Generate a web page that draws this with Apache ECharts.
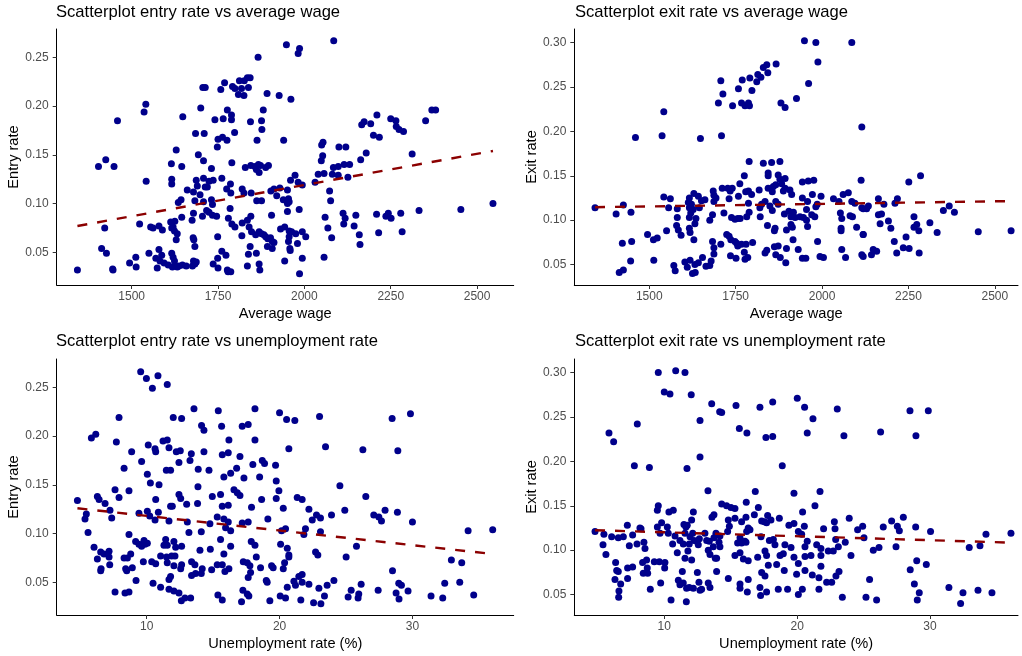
<!DOCTYPE html>
<html>
<head>
<meta charset="utf-8">
<script src="https://cdn.jsdelivr.net/npm/echarts@6/dist/echarts.min.js"></script>
<style>
  html, body { margin: 0; padding: 0; background: #fff; }
  #chart { width: 1022px; height: 656px; }
</style>
</head>
<body>
<div id="chart"></div>
<script>
// Municipal observations: [average wage, entry rate]
const wageEntry = [
  [1706,0.219],[1713,0.219],[1541,0.202],[1536,0.194],[1700,0.198],[1459,0.185],[1648,0.189],[1685,0.172],
  [1710,0.172],[1629,0.155],[1693,0.150],[1708,0.144],[1404,0.138],[1425,0.145],[1449,0.138],[1615,0.141],
  [1645,0.138],[1542,0.123],[1616,0.125],[1616,0.120],[1687,0.124],[1708,0.126],[1690,0.118],[1713,0.117],
  [1679,0.112],[1661,0.114],[1698,0.109],[1643,0.104],[1635,0.101],[1683,0.103],[1708,0.102],[1679,0.090],
  [1705,0.087],[1645,0.086],[1422,0.075],[1523,0.079],[1555,0.076],[1562,0.075],[1579,0.077],[1589,0.073],
  [1613,0.081],[1625,0.082],[1620,0.076],[1616,0.075],[1624,0.072],[1632,0.069],[1629,0.063],[1675,0.083],
  [1678,0.065],[1680,0.063],[1683,0.056],[1413,0.054],[1427,0.049],[1512,0.045],[1494,0.039],[1513,0.035],
  [1550,0.049],[1579,0.053],[1570,0.044],[1587,0.047],[1582,0.041],[1574,0.034],[1594,0.039],[1606,0.037],
  [1616,0.049],[1620,0.045],[1624,0.041],[1627,0.036],[1637,0.036],[1647,0.037],[1658,0.036],[1679,0.041],
  [1683,0.038],[1676,0.036],[1687,0.040],[1618,0.035],[1632,0.035],[1343,0.032],[1445,0.033],[1446,0.032],
  [1948,0.263],[2085,0.267],[1986,0.259],[1982,0.254],[1866,0.250],[1769,0.224],[1758,0.217],[1792,0.220],
  [1799,0.218],[1812,0.226],[1826,0.226],[1835,0.229],[1843,0.229],[1818,0.218],[1838,0.219],[1809,0.212],
  [1825,0.211],[1892,0.213],[1927,0.211],[1961,0.207],[1777,0.196],[1741,0.186],[1765,0.187],[1789,0.191],
  [1789,0.186],[1844,0.184],[1881,0.196],[1876,0.185],[1877,0.176],[1798,0.173],[1750,0.166],[1763,0.168],
  [1776,0.165],[1748,0.158],[1863,0.165],[1940,0.165],[2054,0.163],[2050,0.160],[2053,0.149],[2049,0.144],
  [2100,0.158],[2120,0.158],[1790,0.142],[1731,0.136],[1829,0.137],[1845,0.139],[1857,0.138],[1867,0.140],
  [1873,0.139],[1861,0.135],[1869,0.132],[1888,0.137],[1896,0.139],[2040,0.130],[2057,0.131],[2084,0.137],
  [2098,0.138],[2115,0.140],[2131,0.140],[2081,0.130],[2098,0.129],[2126,0.127],[1973,0.129],[1960,0.124],
  [1982,0.122],[1994,0.119],[2031,0.122],[1724,0.123],[1736,0.124],[1761,0.126],[1786,0.120],[1719,0.117],
  [1775,0.115],[1787,0.111],[1820,0.115],[1825,0.111],[1846,0.111],[1903,0.113],[1912,0.115],[1929,0.116],
  [1951,0.114],[1920,0.108],[2073,0.113],[2076,0.103],[1731,0.104],[1734,0.099],[1862,0.103],[1876,0.103],
  [1939,0.104],[1954,0.105],[1951,0.100],[1956,0.102],[1785,0.095],[1985,0.094],[1951,0.092],[1717,0.093],
  [1724,0.091],[1734,0.088],[1746,0.087],[1905,0.088],[2060,0.086],[2112,0.090],[2118,0.085],[2114,0.079],
  [1780,0.085],[1790,0.079],[1799,0.076],[1820,0.080],[1835,0.083],[1845,0.087],[1840,0.076],[1847,0.071],
  [1859,0.068],[1869,0.071],[1876,0.069],[1883,0.068],[1888,0.066],[1894,0.064],[1902,0.065],[1907,0.061],
  [1912,0.060],[1907,0.054],[1893,0.056],[1931,0.074],[1943,0.076],[1956,0.072],[1963,0.071],[1975,0.069],
  [1956,0.066],[1994,0.071],[2004,0.066],[2068,0.075],[2079,0.065],[2144,0.077],[1954,0.061],[1958,0.054],
  [1980,0.059],[1959,0.052],[1749,0.066],[1819,0.067],[1843,0.056],[1838,0.048],[1861,0.049],[1761,0.051],
  [1773,0.047],[1749,0.044],[1736,0.038],[1750,0.034],[1777,0.032],[1779,0.030],[1787,0.030],[1835,0.036],
  [1869,0.038],[1871,0.032],[1943,0.041],[1994,0.044],[2057,0.045],[1986,0.028],
  [2369,0.196],[2380,0.196],[2351,0.185],[2166,0.181],[2173,0.184],[2192,0.182],[2210,0.191],[2250,0.187],
  [2265,0.185],[2266,0.179],[2274,0.176],[2287,0.174],[2200,0.170],[2217,0.168],[2179,0.152],[2163,0.145],
  [2312,0.151],[2149,0.088],[2209,0.089],[2236,0.087],[2243,0.090],[2251,0.085],[2279,0.090],[2332,0.093],
  [2453,0.094],[2546,0.100],[2159,0.068],[2215,0.070],[2283,0.071],[2161,0.058]
];

// [average wage, exit rate]
const wageExit = [
  [1542,0.222],[1460,0.193],[1537,0.195],[1648,0.192],[1343,0.114],[1404,0.107],[1425,0.117],[1447,0.109],
  [1542,0.126],[1561,0.124],[1556,0.114],[1581,0.113],[1616,0.125],[1629,0.130],[1642,0.127],[1651,0.122],
  [1661,0.123],[1685,0.133],[1687,0.128],[1693,0.125],[1613,0.120],[1616,0.114],[1622,0.118],[1627,0.112],
  [1620,0.108],[1616,0.103],[1635,0.102],[1632,0.096],[1645,0.114],[1675,0.100],[1683,0.106],[1687,0.121],
  [1581,0.103],[1579,0.094],[1584,0.089],[1592,0.083],[1550,0.088],[1616,0.091],[1618,0.086],[1629,0.078],
  [1495,0.084],[1512,0.078],[1523,0.080],[1422,0.074],[1449,0.076],[1683,0.076],[1687,0.069],[1687,0.062],
  [1446,0.054],[1413,0.041],[1425,0.044],[1513,0.055],[1571,0.049],[1575,0.043],[1603,0.053],[1618,0.055],
  [1610,0.047],[1625,0.040],[1633,0.041],[1632,0.050],[1642,0.052],[1654,0.058],[1664,0.048],[1675,0.049],
  [1679,0.054],
  [1949,0.302],[1982,0.300],[2086,0.300],[1988,0.278],[1867,0.276],[1840,0.275],[1830,0.272],[1814,0.264],
  [1823,0.261],[1843,0.266],[1811,0.256],[1791,0.260],[1769,0.258],[1707,0.257],[1961,0.254],[1758,0.248],
  [1797,0.246],[1713,0.242],[1926,0.237],[1700,0.232],[1741,0.229],[1767,0.232],[1777,0.229],[1787,0.232],
  [1790,0.229],[1881,0.232],[1893,0.227],[2115,0.205],[1709,0.195],[1789,0.166],[1830,0.164],[1854,0.165],
  [1878,0.166],[1775,0.150],[1844,0.153],[1844,0.150],[1873,0.151],[1878,0.146],[1866,0.140],[1883,0.141],
  [1893,0.147],[1893,0.136],[1888,0.133],[1762,0.141],[1711,0.136],[1727,0.136],[1740,0.136],[1734,0.133],
  [1787,0.133],[1779,0.132],[1796,0.129],[1818,0.134],[1758,0.127],[1731,0.124],[1844,0.136],[1859,0.138],
  [1856,0.132],[1907,0.134],[1912,0.129],[1943,0.143],[1960,0.144],[1976,0.145],[1972,0.129],[1997,0.127],
  [2113,0.145],[2061,0.129],[2076,0.131],[2033,0.124],[2049,0.121],[2086,0.121],[2095,0.119],[2115,0.114],
  [1943,0.125],[1958,0.121],[1986,0.118],[1982,0.115],[1789,0.109],[1787,0.119],[1820,0.114],[1825,0.118],
  [1835,0.121],[1849,0.116],[1856,0.111],[1866,0.121],[1873,0.118],[1891,0.107],[1904,0.110],[1917,0.109],
  [1910,0.104],[1922,0.103],[1936,0.104],[1946,0.103],[1955,0.100],[1970,0.106],[1955,0.112],[1979,0.104],
  [1958,0.093],[1910,0.095],[1897,0.089],[1914,0.092],[1716,0.108],[1738,0.103],[1748,0.101],[1756,0.102],
  [1763,0.102],[1782,0.104],[1821,0.104],[1842,0.094],[1864,0.091],[1862,0.088],[2053,0.108],[2057,0.102],
  [2081,0.105],[2088,0.104],[2055,0.091],[2055,0.088],[2100,0.092],[2119,0.084],[1724,0.084],[1731,0.082],
  [1736,0.078],[1748,0.076],[1756,0.071],[1767,0.073],[1780,0.073],[1799,0.075],[1707,0.073],[1753,0.074],
  [1916,0.078],[1987,0.076],[1835,0.063],[1840,0.066],[1862,0.070],[1873,0.071],[1866,0.061],[1897,0.068],
  [1931,0.067],[1775,0.064],[1735,0.060],[1751,0.057],[1777,0.056],[1785,0.058],[1879,0.058],[1895,0.052],
  [1943,0.057],[1953,0.057],[1994,0.059],[2004,0.058],[2057,0.067],[2068,0.058],[2115,0.061],
  [2251,0.143],[2285,0.150],[2163,0.124],[2218,0.124],[2211,0.119],[2179,0.118],[2119,0.113],[2129,0.113],
  [2134,0.116],[2351,0.111],[2368,0.116],[2383,0.109],[2163,0.106],[2172,0.107],[2266,0.104],[2192,0.099],
  [2168,0.096],[2199,0.091],[2266,0.092],[2274,0.095],[2280,0.088],[2312,0.097],[2333,0.086],[2452,0.087],
  [2547,0.088],[2119,0.084],[2209,0.076],[2243,0.081],[2148,0.067],[2158,0.065],[2143,0.061],[2119,0.059],
  [2235,0.069],[2252,0.068],[2216,0.063],[2281,0.063]
];

// [unemployment rate (%), entry rate]
const unempEntry = [
  [9.55,0.266],[9.98,0.259],[10.85,0.262],[10.43,0.249],[11.55,0.253],[13.56,0.228],[7.92,0.219],[12.00,0.219],
  [12.63,0.218],[14.13,0.211],[14.31,0.206],[5.84,0.198],[6.17,0.202],[7.72,0.194],[11.23,0.195],[11.55,0.196],
  [10.12,0.191],[10.63,0.187],[10.68,0.184],[11.68,0.188],[12.23,0.184],[12.53,0.185],[13.36,0.182],[13.26,0.175],
  [14.31,0.184],[8.87,0.184],[9.62,0.174],[12.43,0.173],[8.30,0.167],[11.48,0.165],[11.80,0.165],[13.88,0.166],
  [10.05,0.161],[10.28,0.152],[10.93,0.150],[13.86,0.148],[7.62,0.145],[8.67,0.144],[7.92,0.137],[6.29,0.138],
  [6.42,0.135],[6.87,0.131],[4.79,0.134],[10.68,0.135],[12.43,0.140],[12.56,0.136],[11.80,0.128],[11.93,0.128],
  [13.01,0.130],[13.83,0.131],[7.24,0.124],[7.37,0.116],[5.46,0.120],[5.36,0.115],[9.42,0.121],[10.05,0.123],
  [10.23,0.118],[10.63,0.114],[10.88,0.122],[11.68,0.113],[13.06,0.112],[13.18,0.101],[14.11,0.102],[5.59,0.101],
  [8.67,0.099],[9.17,0.092],[9.42,0.089],[9.62,0.087],[9.87,0.089],[10.05,0.090],[9.80,0.093],[11.43,0.094],
  [11.30,0.088],[11.55,0.088],[12.05,0.092],[12.18,0.086],[12.63,0.087],[6.04,0.086],[6.54,0.081],[6.79,0.079],
  [7.17,0.082],[7.17,0.076],[6.29,0.074],[8.30,0.075],[8.55,0.075],[8.80,0.079],[6.57,0.064],[6.54,0.062],
  [7.22,0.068],[8.42,0.064],[8.50,0.062],[8.92,0.065],[9.75,0.071],[10.38,0.071],[10.68,0.069],[11.05,0.077],
  [11.50,0.076],[11.88,0.077],[12.13,0.077],[11.55,0.070],[12.05,0.067],[12.63,0.068],[12.56,0.064],[13.38,0.071],
  [13.63,0.068],[14.18,0.064],[14.01,0.083],[13.38,0.057],[13.68,0.059],[14.11,0.059],[9.20,0.052],[10.48,0.049],
  [11.05,0.045],[11.68,0.053],[11.80,0.056],[11.68,0.043],[12.05,0.041],[12.43,0.039],[12.61,0.031],[12.88,0.034],
  [13.31,0.034],[7.62,0.040],[8.37,0.039],[8.67,0.040],
  [15.39,0.226],[18.15,0.228],[20.00,0.224],[20.53,0.217],[21.15,0.216],[23.01,0.220],[15.64,0.210],[17.19,0.210],
  [17.64,0.212],[16.19,0.196],[18.15,0.196],[20.70,0.187],[23.46,0.189],[15.69,0.181],[16.14,0.183],[17.02,0.179],
  [17.99,0.171],[18.70,0.175],[18.87,0.172],[19.70,0.170],[14.69,0.165],[16.77,0.167],[16.32,0.162],[15.81,0.158],
  [17.32,0.157],[18.50,0.158],[19.75,0.154],[19.95,0.144],[19.75,0.136],[16.57,0.145],[16.82,0.142],[17.02,0.139],
  [14.94,0.138],[15.56,0.140],[15.69,0.128],[16.14,0.129],[18.65,0.135],[17.89,0.127],[20.28,0.126],[21.33,0.137],
  [21.70,0.135],[22.21,0.125],[22.78,0.119],[23.08,0.116],[22.46,0.114],[23.91,0.119],[24.54,0.149],[24.91,0.124],
  [15.31,0.117],[15.81,0.115],[16.14,0.112],[15.94,0.106],[16.32,0.103],[14.76,0.110],[17.19,0.111],[17.64,0.112],
  [19.12,0.115],[20.15,0.103],[20.45,0.105],[21.95,0.105],[21.83,0.099],[23.08,0.102],[15.56,0.094],[17.87,0.092],
  [18.15,0.088],[16.32,0.087],[14.79,0.084],[15.81,0.079],[18.25,0.076],[20.08,0.089],[20.58,0.085],[20.70,0.078],
  [20.70,0.076],[22.71,0.081],[22.88,0.078],[25.01,0.076],[15.31,0.068],[15.69,0.068],[14.89,0.063],[15.89,0.061],
  [16.19,0.064],[17.27,0.071],[17.57,0.070],[17.77,0.067],[17.82,0.060],[17.64,0.055],[18.57,0.065],[19.40,0.067],
  [19.52,0.065],[20.38,0.070],[20.28,0.064],[19.00,0.052],[19.07,0.050],[21.08,0.051],[21.20,0.047],[21.45,0.056],
  [21.70,0.058],[21.70,0.050],[22.21,0.048],[20.58,0.045],[22.96,0.044],[23.58,0.047],[24.09,0.052],[15.36,0.037],
  [15.69,0.032],[17.24,0.042],[17.57,0.038],[17.69,0.036],[17.14,0.030],[19.27,0.031],[20.05,0.036],[20.45,0.034],
  [21.60,0.032],[22.56,0.029],[23.11,0.028],[23.38,0.036],[25.39,0.042],[25.16,0.035],
  [28.47,0.218],[29.85,0.223],[26.27,0.186],[28.90,0.185],[26.49,0.138],[27.09,0.119],[27.47,0.117],[27.67,0.113],
  [27.94,0.124],[28.87,0.122],[30.00,0.112],[34.19,0.103],[36.04,0.104],[25.79,0.087],[32.93,0.073],[33.71,0.070],
  [28.50,0.062],[26.14,0.048],[25.96,0.038],[25.91,0.034],[27.42,0.042],[28.97,0.049],[29.17,0.047],[28.77,0.039],
  [28.99,0.033],[29.67,0.041],[31.40,0.036],[32.28,0.034],[32.43,0.049],[33.56,0.050],[34.61,0.037]
];

// [unemployment rate (%), exit rate]
const unempExit = [
  [9.55,0.300],[10.86,0.302],[11.56,0.300],[10.00,0.278],[10.43,0.276],[12.03,0.275],[13.57,0.265],[7.97,0.242],
  [12.69,0.246],[5.84,0.232],[6.19,0.222],[12.69,0.205],[7.75,0.195],[8.88,0.193],[11.71,0.192],[13.29,0.167],
  [9.55,0.150],[9.48,0.145],[10.35,0.143],[10.68,0.145],[12.19,0.143],[13.74,0.140],[13.59,0.137],[4.79,0.121],
  [5.46,0.118],[7.22,0.128],[7.62,0.117],[8.17,0.125],[8.25,0.124],[6.04,0.115],[6.54,0.114],[6.92,0.115],
  [7.37,0.105],[7.95,0.107],[8.47,0.109],[8.55,0.102],[9.48,0.126],[9.80,0.131],[10.23,0.126],[9.68,0.119],
  [10.30,0.119],[10.81,0.116],[10.63,0.107],[11.18,0.111],[11.48,0.129],[11.63,0.126],[12.06,0.134],[11.73,0.128],
  [11.56,0.119],[11.94,0.115],[12.14,0.119],[12.24,0.111],[12.44,0.110],[12.64,0.113],[13.06,0.119],[13.19,0.111],
  [13.39,0.110],[13.74,0.114],[11.43,0.107],[11.88,0.107],[12.56,0.106],[5.39,0.106],[5.61,0.095],[10.98,0.097],
  [11.78,0.099],[13.31,0.100],[13.44,0.095],[13.69,0.104],[13.84,0.091],[6.34,0.086],[6.42,0.077],[6.54,0.076],
  [7.24,0.080],[7.62,0.081],[8.37,0.086],[8.67,0.089],[8.72,0.080],[8.42,0.074],[8.75,0.074],[9.25,0.087],
  [9.63,0.087],[10.05,0.086],[10.03,0.080],[11.56,0.091],[12.06,0.089],[11.36,0.076],[12.49,0.075],[6.29,0.067],
  [6.72,0.062],[7.24,0.068],[6.59,0.054],[6.57,0.047],[8.95,0.056],[9.73,0.063],[10.51,0.044],[11.66,0.042],
  [11.06,0.066],[11.18,0.061],[11.43,0.063],[11.68,0.057],[11.88,0.058],[12.19,0.057],[12.61,0.064],[12.69,0.055],
  [12.81,0.056],[13.31,0.063],[13.44,0.058],
  [20.01,0.271],[18.16,0.267],[15.40,0.263],[17.20,0.261],[20.56,0.261],[23.02,0.259],[14.17,0.256],[14.32,0.255],
  [21.19,0.248],[15.65,0.237],[16.22,0.232],[17.65,0.227],[18.16,0.228],[20.76,0.232],[23.52,0.229],[18.88,0.195],
  [16.85,0.166],[19.76,0.164],[21.72,0.166],[14.32,0.152],[14.69,0.150],[15.02,0.148],[15.32,0.147],[16.17,0.154],
  [17.08,0.148],[21.34,0.150],[20.41,0.143],[23.92,0.136],[17.78,0.139],[18.66,0.136],[17.53,0.132],[16.78,0.140],
  [14.82,0.134],[15.32,0.136],[15.82,0.132],[16.15,0.137],[14.90,0.127],[17.33,0.133],[17.70,0.131],[18.03,0.134],
  [19.38,0.128],[19.76,0.130],[20.54,0.127],[21.99,0.124],[22.80,0.132],[22.85,0.124],[24.55,0.123],[14.77,0.121],
  [16.32,0.125],[16.45,0.123],[16.20,0.121],[13.89,0.119],[14.19,0.116],[14.12,0.109],[14.19,0.104],[15.70,0.114],
  [16.07,0.110],[15.52,0.108],[15.82,0.108],[16.15,0.109],[17.28,0.115],[17.91,0.111],[18.21,0.112],[18.33,0.106],
  [19.08,0.106],[19.54,0.103],[20.09,0.121],[20.34,0.118],[20.59,0.104],[20.76,0.110],[21.47,0.106],[21.79,0.102],
  [22.34,0.099],[22.72,0.099],[22.90,0.112],[23.10,0.104],[23.62,0.109],[15.32,0.094],[15.70,0.097],[15.95,0.090],
  [16.32,0.088],[17.03,0.092],[17.58,0.099],[17.70,0.094],[18.71,0.094],[18.96,0.096],[19.76,0.092],[20.59,0.093],
  [21.04,0.094],[21.79,0.094],[24.05,0.094],[17.83,0.083],[18.46,0.084],[19.03,0.077],[20.09,0.085],[20.59,0.077],
  [21.79,0.082],[13.94,0.091],[13.94,0.076],[17.33,0.075],[17.58,0.071],[19.96,0.073],[21.14,0.072],[21.64,0.069],
  [22.22,0.064],[22.60,0.064],[22.92,0.071],[23.15,0.076],[14.82,0.068],[15.70,0.062],[15.70,0.057],[16.32,0.067],
  [16.25,0.053],[17.20,0.058],[17.25,0.049],[17.70,0.053],[18.58,0.056],[19.28,0.056],[20.09,0.050],[20.39,0.056],
  [21.64,0.056],[23.40,0.047],
  [28.49,0.257],[29.87,0.257],[26.28,0.233],[28.94,0.229],[24.93,0.127],[26.48,0.126],[27.11,0.133],[27.54,0.127],
  [27.99,0.137],[27.69,0.122],[28.92,0.126],[30.04,0.121],[25.03,0.114],[26.16,0.103],[25.73,0.100],[27.44,0.104],
  [34.21,0.118],[36.09,0.119],[32.95,0.103],[33.76,0.105],[29.00,0.088],[29.72,0.084],[28.51,0.078],[25.45,0.067],
  [28.82,0.062],[25.18,0.047],[25.98,0.044],[29.04,0.044],[29.19,0.052],[31.42,0.058],[32.48,0.052],[33.61,0.055],
  [34.66,0.052],[32.30,0.040]
];

// Fitted linear trends (endpoints at the observed x range)
const wageEntryFit = [[1343,0.077],[2546,0.154]];
const wageExitFit = [[1343,0.1146],[2547,0.1215]];
const unempEntryFit = [[4.79,0.126],[36.09,0.079]];
const unempExitFit = [[4.79,0.1225],[36.09,0.1085]];

// Tick values
const wageTicks = [1500,1750,2000,2250,2500];
const unempTicks = [10,20,30];
const entryTicks = [0.05,0.10,0.15,0.20,0.25];
const exitTicks = [0.05,0.10,0.15,0.20,0.25,0.30];

const titles = [
  'Scatterplot entry rate vs average wage',
  'Scatterplot exit rate vs average wage',
  'Scatterplot entry rate vs unemployment rate',
  'Scatterplot exit rate vs unemployment rate'
];

const FONT = '"Liberation Sans", Arial, sans-serif';
const POINT = '#00008B';
const FIT = '#8B0000';

const grids = [
  { left: 56.7, top: 29, width: 457, height: 256 },
  { left: 574.3, top: 29, width: 443.7, height: 256 },
  { left: 56.7, top: 359, width: 457, height: 256 },
  { left: 574.3, top: 359, width: 443.7, height: 256 }
];

function xAxisDef(idx, name, min, max, ticks) {
  return {
    type: 'value', gridIndex: idx, min: min, max: max,
    name: name, nameLocation: 'middle', nameGap: 21,
    nameTextStyle: { color: '#000', fontSize: 14.6, fontFamily: FONT },
    axisLine: { show: true, onZero: false, lineStyle: { color: '#000', width: 1 } },
    axisTick: { show: true, length: 4, customValues: ticks, lineStyle: { color: '#333', width: 1 } },
    axisLabel: { customValues: ticks, color: '#4D4D4D', fontSize: 12, fontFamily: FONT, margin: 6,
                 formatter: v => String(Math.round(v)) },
    splitLine: { show: false }
  };
}

function yAxisDef(idx, name, min, max, ticks, gap) {
  return {
    type: 'value', gridIndex: idx, min: min, max: max,
    name: name, nameLocation: 'middle', nameGap: gap, nameRotate: 90,
    nameTextStyle: { color: '#000', fontSize: 14.6, fontFamily: FONT },
    axisLine: { show: true, onZero: false, lineStyle: { color: '#000', width: 1 } },
    axisTick: { show: true, length: 4, customValues: ticks, lineStyle: { color: '#333', width: 1 } },
    axisLabel: { customValues: ticks, color: '#4D4D4D', fontSize: 12, fontFamily: FONT, margin: 8,
                 formatter: v => v.toFixed(2) },
    splitLine: { show: false }
  };
}

function scatter(idx, data) {
  return {
    type: 'scatter', xAxisIndex: idx, yAxisIndex: idx, data: data,
    symbol: 'circle', symbolSize: 7, itemStyle: { color: POINT, opacity: 1 }, z: 2
  };
}

function fitLine(idx, data) {
  return {
    type: 'line', xAxisIndex: idx, yAxisIndex: idx, data: data,
    showSymbol: false, symbol: 'none', silent: true,
    lineStyle: { color: FIT, width: 2.4, type: [10, 10] }, z: 3
  };
}

const chart = echarts.init(document.getElementById('chart'), null, { renderer: 'canvas' });
chart.setOption({
  animation: false,
  backgroundColor: '#ffffff',
  title: [
    { text: titles[0], left: 56, top: 4 },
    { text: titles[1], left: 575, top: 4 },
    { text: titles[2], left: 56, top: 333 },
    { text: titles[3], left: 575, top: 333 }
  ].map(t => Object.assign(t, { padding: 0,
    textStyle: { color: '#000', fontSize: 16.6, fontWeight: 'normal', fontFamily: FONT } })),
  grid: grids,
  xAxis: [
    xAxisDef(0, 'Average wage', 1283, 2606, wageTicks),
    xAxisDef(1, 'Average wage', 1283, 2567, wageTicks),
    xAxisDef(2, 'Unemployment rate (%)', 3.23, 37.62, unempTicks),
    xAxisDef(3, 'Unemployment rate (%)', 3.23, 36.62, unempTicks)
  ],
  yAxis: [
    yAxisDef(0, 'Entry rate', 0.0165, 0.2791, entryTicks, 35),
    yAxisDef(1, 'Exit rate', 0.027, 0.3153, exitTicks, 33),
    yAxisDef(2, 'Entry rate', 0.0165, 0.2791, entryTicks, 35),
    yAxisDef(3, 'Exit rate', 0.027, 0.3153, exitTicks, 33)
  ],
  series: [
    scatter(0, wageEntry), fitLine(0, wageEntryFit),
    scatter(1, wageExit), fitLine(1, wageExitFit),
    scatter(2, unempEntry), fitLine(2, unempEntryFit),
    scatter(3, unempExit), fitLine(3, unempExitFit)
  ]
});
</script>
</body>
</html>
